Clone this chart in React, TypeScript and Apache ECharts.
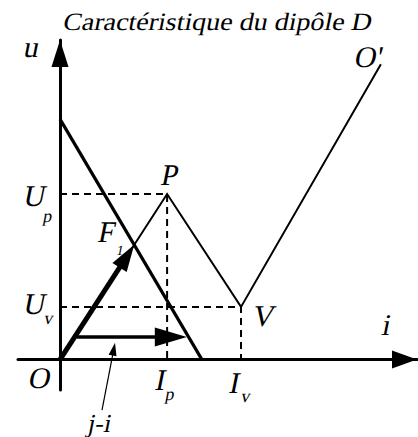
import React, { useEffect, useRef } from "react";
import * as echarts from "echarts";

const FONT = "Liberation Serif";
const INK = "#000";
// oblique slant applied to the serif text (radians)
const SLANT = -0.2;

// Characteristic of dipole D, as (i, u) vertices: O → P (peak) → V (valley) → O'
const charI = [0, 2.55, 4.31, 7.64];
const charU = [0, 5.44, 1.73, 9.7];

// Load line of the generator: from (0, E) down to (Icc, 0)
const loadI = [0, 3.38];
const loadU = [7.9, 0];

// Horizontal vector j − i
const jiI = [0.4, 3.02];
const jiU = [0.74, 0.74];

// Leader line from the "j-i" caption up to that vector
const leaderI = [1.0, 1.31];
const leaderU = [-1.66, 0.55];

// Visible extent of both axes
const iRange = [-1, 8.5];
const uRange = [-1, 10.5];

const pt = (xs: number[], ys: number[], k: number) => [xs[k], ys[k]];

const O = pt(charI, charU, 0);
const P = pt(charI, charU, 1);
const V = pt(charI, charU, 2);
const Oprime = pt(charI, charU, 3);

// Operating point F1: where the rising branch O–P crosses the load line
function intersect(a0: number[], a1: number[], b0: number[], b1: number[]) {
  const d1x = a1[0] - a0[0];
  const d1y = a1[1] - a0[1];
  const d2x = b1[0] - b0[0];
  const d2y = b1[1] - b0[1];
  const den = d1x * d2y - d1y * d2x;
  const t = ((b0[0] - a0[0]) * d2y - (b0[1] - a0[1]) * d2x) / den;
  return [a0[0] + t * d1x, a0[1] + t * d1y];
}
const F1 = intersect(O, P, pt(loadI, loadU, 0), pt(loadI, loadU, 1));

// Arrows: geometry from the data above, head and shaft styles alongside
const arrows = [
  { from: O, to: F1, width: 5, headLen: 27, headW: 17 },
  { from: pt(jiI, jiU, 0), to: pt(jiI, jiU, 1), width: 3.5, headLen: 32, headW: 19 },
  { from: pt(leaderI, leaderU, 0), to: pt(leaderI, leaderU, 1), width: 1.2, headLen: 13, headW: 8 },
];

// Text labels, anchored on a data point and nudged in pixels
const labels = [
  { text: "u", at: [0, uRange[1]], dx: -28, dy: 7, size: 30 },
  { text: "O'", at: Oprime, dx: -12, dy: -7, size: 30 },
  { text: "U", at: [0, P[1]], dx: -25, dy: 2, size: 30 },
  { text: "p", at: [0, P[1]], dx: -12, dy: 22, size: 18 },
  { text: "F", at: F1, dx: -27, dy: -13, size: 30 },
  { text: "1", at: F1, dx: -14, dy: 5, size: 14 },
  { text: "U", at: [0, V[1]], dx: -25, dy: -3, size: 30 },
  { text: "v", at: [0, V[1]], dx: -11, dy: 11, size: 18 },
  { text: "O", at: O, dx: -20, dy: 19, size: 30 },
  { text: "P", at: P, dx: 3, dy: -19, size: 30 },
  { text: "V", at: V, dx: 23, dy: 9, size: 30 },
  { text: "I", at: [P[0], 0], dx: -6, dy: 21, size: 30 },
  { text: "p", at: [P[0], 0], dx: 3, dy: 34, size: 18 },
  { text: "I", at: [V[0], 0], dx: -6, dy: 24, size: 30 },
  { text: "v", at: [V[0], 0], dx: 5, dy: 36, size: 18 },
  { text: "i", at: [iRange[1], 0], dx: -30, dy: -34, size: 30 },
  { text: "j-i", at: pt(leaderI, leaderU, 0), dx: -2, dy: 13, size: 26 },
];

const dashed = { color: INK, width: 2, type: [7, 5] as number[] };

function axisBase(range: number[], size: number[]) {
  return {
    type: "value" as const,
    min: range[0],
    max: range[1],
    axisLine: {
      show: true,
      onZero: true,
      symbol: ["none", "triangle"],
      symbolSize: size,
      symbolOffset: [0, -size[1] / 2],
      lineStyle: { color: INK, width: 3 },
    },
    axisTick: { show: false },
    axisLabel: { show: false },
    splitLine: { show: false },
  };
}

function slantedText(text: string, x: number, y: number, size: number, scaleX = 1) {
  return {
    type: "text",
    x,
    y,
    skewX: SLANT,
    scaleX,
    silent: true,
    z: 10,
    style: {
      text,
      fontFamily: FONT,
      fontSize: size,
      fill: INK,
      align: "center",
      verticalAlign: "middle",
    },
  };
}

const titleText = slantedText("Caractéristique du dipôle D", 218, 22, 25, 1.12);

const option = {
  animation: false,
  backgroundColor: "#fff",
  graphic: [titleText],
  grid: { left: 18, right: 1, top: 40, bottom: 47 },
  xAxis: axisBase(iRange, [18, 25]),
  yAxis: axisBase(uRange, [17, 27]),
  series: [
    {
      name: "Up",
      type: "line",
      symbol: "none",
      silent: true,
      data: [[0, P[1]], [P[0], P[1]], [P[0], 0]],
      lineStyle: dashed,
      z: 1,
    },
    {
      name: "Uv",
      type: "line",
      symbol: "none",
      silent: true,
      data: [[0, V[1]], [V[0], V[1]], [V[0], 0]],
      lineStyle: dashed,
      z: 1,
    },
    {
      name: "D",
      type: "line",
      symbol: "none",
      silent: true,
      data: charI.map((x, k) => [x, charU[k]]),
      lineStyle: { color: INK, width: 2, join: "miter" },
      z: 2,
    },
    {
      name: "load",
      type: "line",
      symbol: "none",
      silent: true,
      data: loadI.map((x, k) => [x, loadU[k]]),
      lineStyle: { color: INK, width: 3.2 },
      z: 2,
    },
    {
      name: "arrows",
      type: "custom",
      coordinateSystem: "cartesian2d",
      silent: true,
      clip: false,
      z: 3,
      data: arrows.map((a) => [a.from[0], a.from[1], a.to[0], a.to[1]]),
      renderItem: (params: any, api: any) => {
        const a = arrows[params.dataIndex];
        const p0 = api.coord([api.value(0), api.value(1)]);
        const p1 = api.coord([api.value(2), api.value(3)]);
        const dx = p1[0] - p0[0];
        const dy = p1[1] - p0[1];
        const len = Math.hypot(dx, dy);
        const ux = dx / len;
        const uy = dy / len;
        const nx = -uy;
        const ny = ux;
        const bx = p1[0] - ux * a.headLen;
        const by = p1[1] - uy * a.headLen;
        const hw = a.headW / 2;
        return {
          type: "group",
          children: [
            {
              type: "line",
              shape: { x1: p0[0], y1: p0[1], x2: bx + ux * 2, y2: by + uy * 2 },
              style: { stroke: INK, lineWidth: a.width },
            },
            {
              type: "polygon",
              shape: {
                points: [
                  [p1[0], p1[1]],
                  [bx + nx * hw, by + ny * hw],
                  [bx - nx * hw, by - ny * hw],
                ],
              },
              style: { fill: INK },
            },
          ],
        };
      },
    },
  ],
};

export default function App() {
  const ref = useRef<HTMLDivElement>(null);
  useEffect(() => {
    if (!ref.current) return;
    const chart = echarts.init(ref.current, undefined, { renderer: "svg" });
    chart.setOption(option as any);
    // place the point and axis labels through the grid's own scales
    const labelGraphics = labels.map((l) => {
      const p = chart.convertToPixel({ gridIndex: 0 }, l.at) as number[];
      return slantedText(l.text, p[0] + l.dx, p[1] + l.dy, l.size);
    });
    chart.setOption({ graphic: [titleText, ...labelGraphics] } as any);
    return () => chart.dispose();
  }, []);
  return (
    <div
      ref={ref}
      style={{ position: "fixed", left: 0, top: 0, width: 418, height: 437, background: "#fff" }}
    />
  );
}
